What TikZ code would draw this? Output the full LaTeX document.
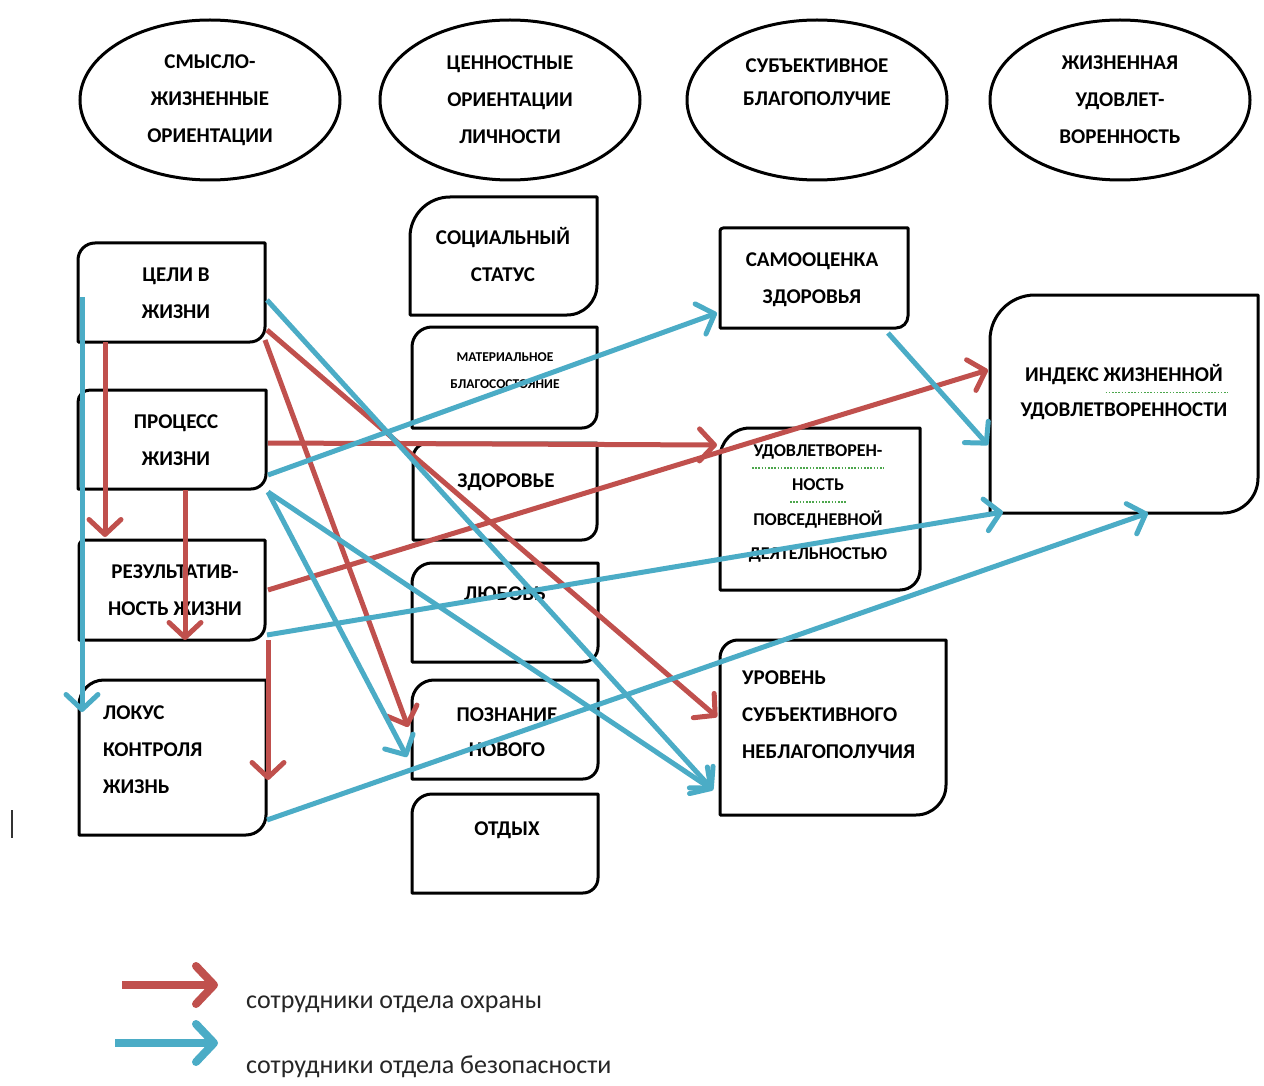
\documentclass[tikz,border=0pt]{standalone}
\usepackage{fontspec}
\setmainfont{Carlito}
\usetikzlibrary{arrows.meta,calc,shapes.geometric}
\definecolor{cred}{HTML}{C0504D}
\definecolor{cblue}{HTML}{4BACC6}
\definecolor{spellg}{HTML}{4CA64C}
\newcommand\dgfont{\fontsize{21}{37}\selectfont\bfseries}
\newcommand\dgthree{\fontsize{21}{33}\selectfont\bfseries}
\newcommand\dgsmall{\fontsize{13.5}{27}\selectfont\bfseries}
\newcommand\dgmid{\fontsize{18}{34.5}\selectfont\bfseries}
\newcommand\dgbig{\fontsize{21}{35}\selectfont\bfseries}
\newcommand\dglegend{\fontsize{26}{30}\selectfont}
\tikzset{
  boxn/.style={rectangle,inner sep=0pt,outer sep=0pt,draw=none},
  boxline/.style={draw=black,line width=3pt,fill=white,line join=round},
  ell/.style={ellipse,draw=black,line width=3pt,fill=white,minimum width=260pt,minimum height=160pt,inner sep=0pt,align=center,font=\dgfont},
  txt/.style={align=center,inner sep=0pt,font=\dgfont},
  txtl/.style={align=left,inner sep=0pt,font=\dgfont,anchor=west},
  redarr/.style={draw=cred,line width=5pt,-{Straight Barb[length=15pt,width=32pt,round]}},
  bluearr/.style={draw=cblue,line width=5pt,-{Straight Barb[length=15pt,width=32pt,round]}},
  legred/.style={draw=cred,line width=8pt,-{Straight Barb[length=18pt,width=38pt,round]}},
  legblue/.style={draw=cblue,line width=8pt,-{Straight Barb[length=18pt,width=38pt,round]}},
  spell/.style={draw=spellg,line width=1.6pt,dash pattern=on 1.6pt off 1.6pt},
  legtxt/.style={anchor=west,inner sep=0pt,font=\dglegend,text=black!85}
}
% name, cx, cy, width, height, top-left radius, bottom-right radius
\newcommand\mkbox[7]{%
  \node[boxn,minimum width=#4pt,minimum height=#5pt] (#1) at (#2,#3) {};
  \draw[boxline] (#1.south west) -- ([yshift=-#6pt]#1.north west)
    arc[start angle=180,end angle=90,radius=#6pt] -- (#1.north east)
    -- ([yshift=#7pt]#1.south east)
    arc[start angle=0,end angle=-90,radius=#7pt] -- cycle;}
\begin{document}
\begin{tikzpicture}[x=1pt,y=-1pt]
\useasboundingbox[fill=white] (0,0) rectangle (1264,1086);

% ---- ellipses ----
\node[ell] (e1) at (210,100) {СМЫСЛО-\\ЖИЗНЕННЫЕ\\ОРИЕНТАЦИИ};
\node[ell] (e2) at (510,100) {ЦЕННОСТНЫЕ\\ОРИЕНТАЦИИ\\ЛИЧНОСТИ};
\node[ell,font=\dgthree,text depth=36pt] (e3) at (817,100) {СУБЪЕКТИВНОЕ\\БЛАГОПОЛУЧИЕ};
\node[ell] (e4) at (1120,100) {ЖИЗНЕННАЯ\\УДОВЛЕТ-\\ВОРЕННОСТЬ};

% ---- left column ----
\mkbox{b1}{171.5}{292.5}{187}{99}{17}{15}
\mkbox{b2}{172}{439.5}{188}{99}{12}{15}
\mkbox{b3}{172}{590}{186}{100}{6}{15}
\mkbox{b4}{172.5}{757.5}{187}{155}{25}{20}
\node[txt] (tb1) at (176,293.5) {ЦЕЛИ В\\ЖИЗНИ};
\node[txt] (tb2) at (176,440.5) {ПРОЦЕСС\\ЖИЗНИ};
\node[txt] (tb3) at (175,590) {РЕЗУЛЬТАТИВ-\\НОСТЬ ЖИЗНИ};
\node[txtl] (tb4) at (103,750) {ЛОКУС\\КОНТРОЛЯ\\ЖИЗНЬ};

% ---- middle column ----
\mkbox{m1}{503.5}{256}{187}{118}{40}{30}
\mkbox{m2}{504.5}{377.5}{185}{101}{20}{15}
\mkbox{m3}{505}{491.5}{184}{97}{15}{15}
\mkbox{m4}{505}{612.5}{186}{99}{20}{15}
\mkbox{m5}{505}{729.5}{186}{99}{22}{15}
\mkbox{m6}{505}{843.5}{186}{99}{20}{15}
\node[txt] (tm1) at (503,254) {СОЦИАЛЬНЫЙ\\СТАТУС};
\node[txt,font=\dgsmall] (tm2) at (505,370.5) {МАТЕРИАЛЬНОЕ\\БЛАГОСОСТОЯНИЕ};
\node[txt] (tm3) at (506,482) {ЗДОРОВЬЕ};
\node[txt] (tm4) at (505,594) {ЛЮБОВЬ};
\node[txt,font=\fontsize{21}{35}\selectfont\bfseries] (tm5) at (507,732.5) {ПОЗНАНИЕ\\НОВОГО};
\node[txt] (tm6) at (507,830) {ОТДЫХ};

% ---- right column ----
\mkbox{r1}{814}{278}{188}{100}{3}{12}
\mkbox{r2}{820}{509}{200}{162}{30}{20}
\mkbox{r3}{833}{727.5}{226}{175}{18}{30}
\mkbox{r4}{1124}{404}{268}{218}{45}{35}
\node[txt] (tr1) at (812,280) {САМООЦЕНКА\\ЗДОРОВЬЯ};
\node[txt,font=\dgmid] (tr2) at (818,503.5) {УДОВЛЕТВОРЕН-\\НОСТЬ\\ПОВСЕДНЕВНОЙ\\ДЕЯТЕЛЬНОСТЬЮ};
\node[txtl] (tr3) at (742,715) {УРОВЕНЬ\\СУБЪЕКТИВНОГО\\НЕБЛАГОПОЛУЧИЯ};
\node[txt,font=\dgbig] (tr4) at (1124,392.5) {ИНДЕКС ЖИЗНЕННОЙ\\УДОВЛЕТВОРЕННОСТИ};
% spell-check marks
\draw[spell] ($(tr4.north east)+(-122,28)$) -- ($(tr4.north east)+(0,28)$);
\draw[spell] ($(tr2.north)+(-66,24)$) -- ($(tr2.north)+(66,24)$);
\draw[spell] ($(tr2.north)+(-28,58)$) -- ($(tr2.north)+(28,58)$);

% ---- red arrows ----
\draw[redarr] ($(b1.south west)+(27,0)$) -- ($(b3.north west)+(26,-3)$);
\draw[redarr] ($(b2.south west)+(107,1)$) -- ($(b3.south west)+(106,0)$);
\draw[redarr] ($(b3.south east)+(3,0)$) -- ($(b4.north east)+(2,100)$);
\draw[redarr] ($(b1.south east)+(0,-2)$) -- ($(m5.west)+(-4,-2.5)$);
\draw[redarr] ($(b1.south east)+(2,-12)$) -- ($(r3.west)+(-3,-10.5)$);
\draw[redarr] ($(b2.east)+(2,3.5)$) -- ($(r2.north west)+(-3,17)$);
\draw[redarr] ($(b3.east)+(3,0)$) -- ($(r4.west)+(-2,-34)$);

% ---- blue arrows ----
\draw[bluearr] ($(b1.west)+(4,4.5)$) -- ($(b4.north west)+(3,32)$);
\draw[bluearr] ($(b1.east)+(2,7.5)$) -- ($(r3.south west)+(-7,-25)$);
\draw[bluearr] ($(b2.east)+(2,35.5)$) -- ($(r1.south west)+(-3,-15)$);
\draw[bluearr] ($(b2.south east)+(2,3)$) -- ($(m5.south west)+(-5,-22)$);
\draw[bluearr] ($(b2.south east)+(2,3)$) -- ($(r3.south west)+(-7,-25)$);
\draw[bluearr] ($(r1.south east)+(-20,5)$) -- ($(r4.west)+(-2,41)$);
\draw[bluearr] ($(b3.south east)+(2,-5)$) -- ($(r4.south west)+(13,-1)$);
\draw[bluearr] ($(b4.south east)+(1,-15)$) -- ($(r4.south)+(24,0)$);

% ---- stray cursor mark ----
\coordinate (cur1) at (12,810);
\coordinate (cur2) at (12,838);
\draw[line width=2pt,black!80] (cur1) -- (cur2);

% ---- legend ----
\coordinate (lr1) at (122,985);
\coordinate (lr2) at (218,985);
\coordinate (lb1) at (115,1043);
\coordinate (lb2) at (218,1043);
\draw[legred] (lr1) -- (lr2);
\draw[legblue] (lb1) -- (lb2);
\node[legtxt] (lt1) at (246,1004) {сотрудники отдела охраны};
\node[legtxt] (lt2) at (246,1067) {сотрудники отдела безопасности};
\end{tikzpicture}
\end{document}
